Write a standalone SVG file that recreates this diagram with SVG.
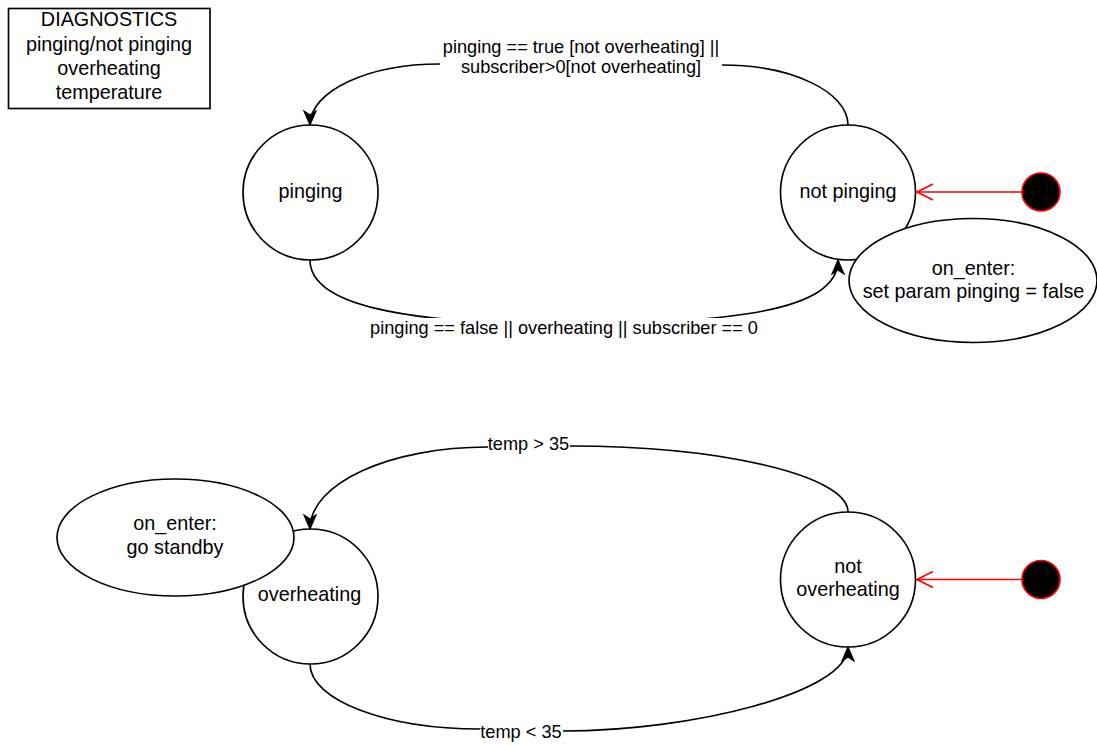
<svg xmlns="http://www.w3.org/2000/svg" width="1097" height="745" viewBox="0 0 1097 745">
<style>
text{font-family:"Liberation Sans",Arial,Helvetica,sans-serif;fill:#000;text-anchor:middle}
.n{font-size:19.8px}
.e{font-size:18.2px}
.st{fill:#fff;stroke:#000;stroke-width:1.65}
.ed{fill:none;stroke:#000;stroke-width:1.65}
.init{fill:none;stroke:#ff0000;stroke-width:1.65}
.dot{fill:#000;stroke:#ff0000;stroke-width:1.65}
.bg{fill:#fff;stroke:none}
</style>
<defs>
<marker id="arr" markerUnits="userSpaceOnUse" viewBox="0 0 16 14" markerWidth="16" markerHeight="14" refX="15" refY="7" orient="auto">
<path d="M1,1 L15,7 L1,13 L5,7 Z" fill="#000" stroke="#000" stroke-width="1.2" stroke-linejoin="miter"/>
</marker>
<marker id="open" markerUnits="userSpaceOnUse" viewBox="0 0 18 18" markerWidth="18" markerHeight="18" refX="17" refY="9" orient="auto">
<path d="M1,1 L17,9 L1,17" fill="none" stroke="#ff0000" stroke-width="1.65"/>
</marker>
</defs>

<g id="diagnostics">
<rect x="8.5" y="8.5" width="201.5" height="100" fill="#fff" stroke="#000" stroke-width="1.65"/>
<text class="n" x="109" y="26">DIAGNOSTICS</text>
<text class="n" x="109" y="50.5">pinging/not pinging</text>
<text class="n" x="109" y="75">overheating</text>
<text class="n" x="109" y="99">temperature</text>
</g>

<g id="connectors">
<path class="ed" d="M848,125 C848,92 792,65 722,65 L440,64 C368,64 310,91 310,125" marker-end="url(#arr)"/>
<path class="ed" d="M310,260 C310,305 400,322 564,326 C730,322 838,312 838,260" marker-end="url(#arr)"/>
<path class="ed" d="M848,512 C848,476 723,446 570,446 L488,447 C390,447 310,483 310,529" marker-end="url(#arr)"/>
<path class="ed" d="M310,664 C310,700 386,729 480,729 L563,731 C691,731 848,693 848,647" marker-end="url(#arr)"/>
<path class="init" d="M1022,192 L917,192" marker-end="url(#open)"/>
<path class="init" d="M1022,579.5 L917,579.5" marker-end="url(#open)"/>
</g>

<g id="edge-labels">
<rect class="bg" x="440" y="37" width="282" height="44"/>
<text class="e" x="581" y="52.7">pinging == true [not overheating] ||</text>
<text class="e" x="581" y="73.3">subscriber&gt;0[not overheating]</text>
<rect class="bg" x="366" y="318" width="397" height="23"/>
<text class="e" x="564" y="334">pinging == false || overheating || subscriber == 0</text>
<rect class="bg" x="488" y="435" width="82" height="21"/>
<text class="e" x="528.5" y="450">temp &gt; 35</text>
<rect class="bg" x="480" y="722" width="83" height="21"/>
<text class="e" x="521" y="738">temp &lt; 35</text>
</g>

<g id="pinging">
<circle class="st" cx="310.5" cy="192.5" r="67.5"/>
<text class="n" x="310.5" y="197.5">pinging</text>
</g>

<g id="not-pinging">
<circle class="st" cx="848" cy="192.5" r="67.5"/>
<text class="n" x="848" y="197.5">not pinging</text>
</g>

<g id="not-pinging-onenter">
<ellipse class="st" cx="973" cy="280.5" rx="124" ry="62"/>
<text class="n" x="973.5" y="275">on_enter:</text>
<text class="n" x="973.5" y="298">set param pinging = false</text>
</g>

<g id="init-pinging">
<circle class="dot" cx="1041" cy="192" r="19"/>
</g>

<g id="overheating">
<circle class="st" cx="310.5" cy="596.5" r="67.5"/>
<text class="n" x="309.5" y="601">overheating</text>
</g>

<g id="overheating-onenter">
<ellipse class="st" cx="175.5" cy="537.5" rx="118.5" ry="58.5"/>
<text class="n" x="175" y="530">on_enter:</text>
<text class="n" x="175" y="554">go standby</text>
</g>

<g id="not-overheating">
<circle class="st" cx="848" cy="579.5" r="67.5"/>
<text class="n" x="848" y="573">not</text>
<text class="n" x="848" y="596">overheating</text>
</g>

<g id="init-overheating">
<circle class="dot" cx="1041" cy="579.5" r="19"/>
</g>
</svg>
